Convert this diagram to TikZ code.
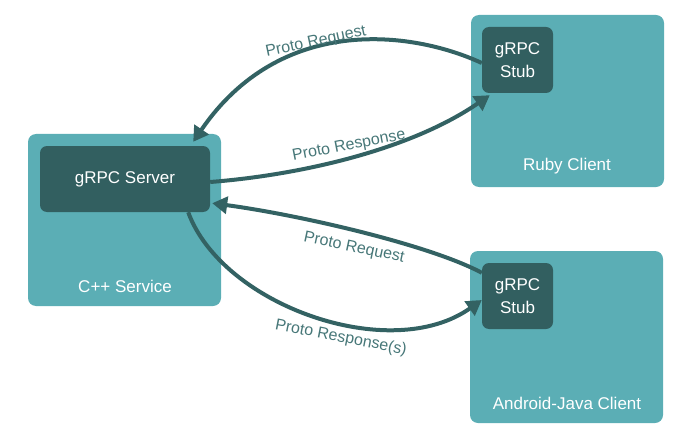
\documentclass[tikz,border=0pt]{standalone}
\usepackage{fontspec}
\setmainfont{Liberation Sans}
\usetikzlibrary{arrows.meta}
\definecolor{outerc}{HTML}{5BAEB5}
\definecolor{innerc}{HTML}{325F60}
\definecolor{arrowc}{HTML}{336263}
\definecolor{labelc}{HTML}{477778}
\tikzset{
  outerbox/.style={fill=outerc, rounded corners=8pt, minimum width=193pt, minimum height=172pt, inner sep=0pt},
  innerbox/.style={fill=innerc, rounded corners=7pt, text=white, inner sep=0pt, align=center, font=\fontsize{17}{23}\selectfont},
  boxlabel/.style={text=white, font=\fontsize{17}{20}\selectfont, inner sep=0pt},
  conn/.style={draw=arrowc, line width=4pt, -{Triangle[length=15pt,width=17pt]}},
  conlabel/.style={text=labelc, font=\fontsize{16}{18}\selectfont, inner sep=0pt}
}
\begin{document}
\begin{tikzpicture}[x=1pt,y=-1pt]
\useasboundingbox (0,0) rectangle (693,433);
% outer boxes
\node[outerbox] (cpp) at (124.5,220) {};
\node[outerbox] (ruby) at (567.5,101) {};
\node[outerbox] (android) at (566.5,337) {};
% inner boxes
\node[innerbox, minimum width=170pt, minimum height=66pt] (server) at (125,179) {gRPC Server};
\node[innerbox, minimum width=71pt, minimum height=66pt] (rstub) at (517.5,60) {gRPC\\Stub};
\node[innerbox, minimum width=71pt, minimum height=66pt] (astub) at (517.5,296) {gRPC\\Stub};
% box labels
\node[boxlabel] (cpplabel) at (125,286) {C++ Service};
\node[boxlabel] (rubylabel) at (567,166) {Ruby Client};
\node[boxlabel] (androidlabel) at (567,403) {Android-Java Client};
% connectors
\draw[conn] ([yshift=-3pt]rstub.west) .. controls (410,30) and (280,15) .. ([xshift=-17pt,yshift=4pt]server.north east);
\draw[conn] ([yshift=-3pt]server.east) .. controls (300,175) and (410,150) .. ([xshift=8pt,yshift=-2pt]rstub.south west);
\draw[conn] ([yshift=-10pt]astub.north west) .. controls (430,245) and (300,215) .. ([xshift=2pt,yshift=9pt]server.south east);
\draw[conn] ([xshift=-22pt]server.south east) .. controls (222,305) and (390,365) .. ([yshift=-4pt]astub.west);
% connector labels
\node[conlabel, rotate=12] (l1) at (316,42) {Proto Request};
\node[conlabel, rotate=11] (l2) at (349,146) {Proto Response};
\node[conlabel, rotate=-12] (l3) at (354,248) {Proto Request};
\node[conlabel, rotate=-11] (l4) at (341,338) {Proto Response(s)};
\end{tikzpicture}
\end{document}
